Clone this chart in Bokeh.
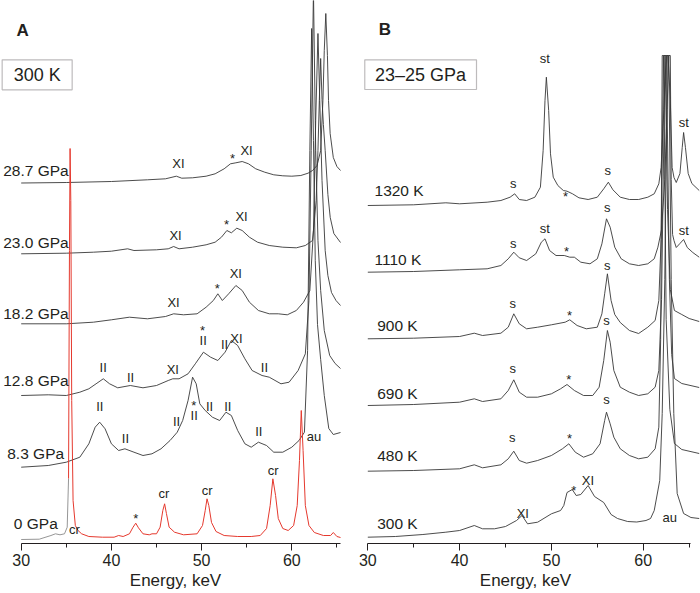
from bokeh.plotting import figure
from bokeh.layouts import row
from bokeh.models import Range1d, FixedTicker, BoxAnnotation, ColumnDataSource
from bokeh.core.properties import value
from bokeh.embed import file_html
from bokeh.resources import INLINE

FONT = "Liberation Sans"
INK = "#231f20"
TRACE = "#383838"
RED = "#e5392e"
GREY0 = "#8a8a8a"

# ---------------- Panel A : 300 K, pressure series (energy keV, intensity a.u. incl. offset)
A_E_287 = [30, 35, 40, 44, 46, 47.2, 47.8, 49, 50.5, 51.5, 52.5, 53.2, 53.8, 54.5, 55.2, 56, 57, 58, 59, 60, 61, 61.8, 62.3, 62.8, 63.2, 63.45, 63.6, 63.77, 63.95, 64.07, 64.25, 64.6, 65.0, 65.4]
A_I_287 = [356.5, 357, 358, 359.7, 360.7, 363.3, 361.3, 361.7, 363.3, 365.7, 370.7, 375.7, 376.7, 378, 375.7, 370.7, 367.3, 364.7, 363.7, 363.3, 364, 366.3, 369, 374, 389, 439, 489, 526, 484, 439, 406, 382, 373, 369]

A_E_230 = [30, 35, 38, 40, 41.8, 42.5, 45, 46.3, 46.9, 47.5, 49, 50.5, 51.5, 52.2, 52.8, 53.3, 53.9, 54.5, 55.3, 56.2, 57.5, 59, 60.5, 61.5, 62.3, 62.7, 62.9, 63.05, 63.2, 63.35, 63.5, 63.7, 64.0, 64.26, 64.66, 65.4]
A_I_230 = [285.7, 286.3, 287.3, 288.3, 290.7, 289, 289.7, 290.7, 293, 290.7, 292.3, 294.7, 297.3, 302.3, 309, 306.7, 311.3, 309, 302.3, 297.3, 294, 292.3, 291.7, 294, 299, 339, 389, 439, 481, 440, 415, 389, 345, 322, 306, 297]

A_E_182 = [30, 35, 38, 40, 42, 44, 46, 46.9, 48, 49.5, 50.5, 51.3, 51.8, 52.3, 53, 53.8, 54.5, 55.3, 56.3, 57.5, 58.5, 59.5, 60.5, 61.3, 62.0, 62.4, 62.65, 62.9, 63.1, 63.35, 63.7, 64.0, 64.4, 64.9, 65.4]
A_I_182 = [215.7, 215.7, 217.3, 219.7, 222.3, 220.7, 223, 225.7, 224.7, 225.7, 232.3, 239, 245.7, 239, 245.7, 254, 249, 237.3, 229, 225.7, 225.7, 224.7, 229, 237.3, 249, 309, 419, 506, 439, 359, 289, 264, 247, 239, 234]

A_E_128 = [30, 33, 35, 36.5, 37.5, 38.3, 39.1, 39.8, 40.7, 42.1, 43.5, 45, 46.3, 46.8, 47.5, 48.5, 49.3, 50.2, 51, 51.8, 52.6, 53.3, 54, 54.8, 55.6, 56.7, 57.5, 58.8, 59.7, 60.7, 61.5, 61.9, 62.15, 62.4, 62.65, 62.9, 63.2, 63.6, 64.2, 64.8, 65.4]
A_I_128 = [144, 144.7, 144, 147.3, 150.7, 155.7, 160.7, 155.7, 151.7, 154, 151.7, 154, 159, 160.7, 160.7, 165.7, 175.7, 187.3, 182.3, 179, 187.3, 199, 194, 180.7, 169, 164, 162.3, 155.7, 157.3, 169, 185.7, 239, 389, 549, 389, 299, 249, 209, 184, 176, 171]

A_E_83 = [30, 33, 35, 36.5, 37.5, 38.2, 38.7, 39.3, 40, 40.8, 41.5, 42.5, 43.5, 44.5, 45.5, 46.5, 47.3, 47.9, 48.5, 49, 49.4, 49.8, 50.4, 51.2, 52, 52.7, 53.3, 54, 54.8, 55.5, 56.3, 57.2, 58, 59, 60, 60.8, 61.4, 61.75, 62.0, 62.2, 62.4, 62.6, 62.85, 63.2, 63.6, 64.1, 64.6, 65.4]
A_I_83 = [72.3, 74, 77.3, 82.3, 95.7, 112.3, 117.3, 110.7, 95.7, 89, 90.7, 87.3, 84, 85.7, 90.7, 99, 107.3, 119, 139, 162.3, 155.7, 135.7, 129, 122.3, 119, 127.3, 124, 109, 95.7, 92.3, 97.3, 94, 87.3, 87.3, 92.3, 99, 107.3, 189, 389, 511, 399, 279, 215, 180, 144, 111, 105, 107]

# 0 GPa: low-energy part (grey) and diffraction part (red)
A_E_0_low = [30, 32, 33.3, 33.8, 34.3, 34.8, 35.1, 35.25]
A_I_0_low = [0, 0.3, 4, 5.7, 4.7, 5.7, 12.3, 61]
A_E_0 = [35.25, 35.35, 35.42, 35.5, 35.6, 35.75, 36.0, 36.3, 36.7, 37.5, 39, 40.3, 40.8, 41.3, 42.0, 42.4, 42.7, 43.0, 43.5, 44.2, 44.5, 45, 45.4, 45.7, 45.9, 46.1, 46.4, 47, 48, 49.5, 50.1, 50.4, 50.6, 50.8, 51.1, 51.6, 52.5, 54, 55.5, 56.5, 57.2, 57.6, 57.9, 58.2, 58.5, 59, 59.6, 60.2, 60.6, 60.85, 61.05, 61.25, 61.5, 61.9, 62.5, 63.5, 64.3, 64.6, 65.0, 65.4]
A_I_0 = [61, 289, 391, 339, 139, 39, 14, 9, 5.7, 3, 2.3, 2.3, 4, 3, 5.7, 12.3, 16.3, 11.7, 5.7, 4.7, 5.7, 5.7, 12.3, 29, 35.7, 26, 12.3, 7.3, 4.7, 5.7, 14, 29, 40.7, 34, 17, 8, 4, 3, 3, 4, 11, 34, 60.7, 44, 21, 11, 9, 14, 34, 79, 129, 89, 34, 14, 7, 4, 4, 7, 3, 2]

A_names = ["28.7 GPa", "23.0 GPa", "18.2 GPa", "12.8 GPa", "8.3 GPa", "0 GPa"]
A_names_x = [28.00, 28.00, 28.00, 28.00, 28.45, 29.18]
A_names_y = [369, 297, 226, 159, 86, 16]

A_marks = ["XI", "*", "XI",
           "XI", "*", "XI",
           "XI", "*", "XI",
           "II", "II", "XI", "*", "II", "II", "XI", "II",
           "II", "II", "II", "*", "II", "II", "II", "II", "au",
           "cr", "*", "cr", "cr", "cr"]
A_marks_x = [47.44, 53.43, 54.98,
             47.11, 52.76, 54.43,
             46.89, 51.73, 53.79,
             39.09, 42.12, 46.81, 50.10, 50.18, 52.54, 53.87, 56.97,
             38.71, 41.56, 47.22, 49.13, 49.18, 50.88, 52.90, 56.34, 62.46,
             35.91, 42.70, 45.81, 50.62, 57.94]
A_marks_y = [376, 381, 389,
             304, 315, 323,
             237, 251, 266,
             172, 162, 170, 209, 199, 195, 201, 172,
             133, 101, 118, 134, 124, 133, 133, 108, 103,
             10, 21, 46, 49, 69]

# ---------------- Panel B : 23-25 GPa, temperature series (au peaks cut at frame top, 484)
B_E_1320 = [30, 35, 38.5, 40, 43, 44.5, 45.5, 46, 46.5, 47.3, 48.2, 48.8, 49.1, 49.3, 49.45, 49.7, 49.9, 50.2, 50.7, 51.3, 51.7, 52.3, 53, 54, 55, 55.7, 56.2, 56.7, 57.5, 58.5, 59.5, 60.5, 61.2, 61.7, 61.95, 62.25, 62.5, 62.7, 62.95, 63.15, 63.35, 63.6, 64.0, 64.25, 64.4, 64.6, 64.9, 65.3, 66.1]
B_I_1320 = [334, 334.7, 336.7, 335.7, 337.3, 339, 342.3, 345.7, 340, 339, 342.3, 352.3, 389, 439, 462.3, 429, 385.7, 362.3, 354, 349, 348.3, 345.7, 341.7, 340, 342.3, 350.7, 357.3, 349.7, 342.3, 340, 340, 342.3, 345.7, 355.7, 372, 430, 484, 484, 440, 372, 362, 357, 366, 392, 407, 392, 366, 356, 349]

B_E_1110 = [30, 35, 40, 43, 44.5, 45.3, 45.9, 46.5, 47.3, 48.3, 48.9, 49.3, 49.8, 50.5, 51.4, 52, 52.5, 53.2, 54.2, 55, 55.5, 56, 56.4, 56.9, 57.6, 58.5, 59.5, 60.5, 61.2, 61.6, 62.0, 62.35, 62.6, 62.78, 62.95, 63.05, 63.2, 63.35, 63.6, 64.0, 64.4, 64.8, 65.4, 66.1]
B_I_1110 = [267.3, 268, 269.7, 270.7, 274, 280.7, 287.3, 281.7, 279, 285.7, 297.3, 300.7, 289, 284, 284, 282.3, 282.3, 277.3, 275.7, 280.7, 295.7, 320.7, 312.3, 292.3, 280.7, 275.7, 274, 275.7, 280.7, 292.3, 310, 360, 430, 484, 484, 360, 305, 299, 292, 296, 300, 292, 287, 282.3]

B_E_900 = [30, 35, 40, 41.6, 42.5, 44.5, 45.3, 45.9, 46.5, 47.3, 48.5, 50, 51.5, 52, 52.8, 53.8, 55, 55.5, 55.8, 56.1, 56.5, 56.9, 57.5, 58.5, 59.5, 60.5, 61.3, 61.7, 61.95, 62.22, 62.38, 62.65, 62.95, 63.4, 64.2, 65.0, 66.1]
B_I_900 = [200.7, 201.3, 203, 206.3, 204, 206.3, 212.3, 225.7, 215.7, 210.7, 212.3, 214.7, 217.3, 219.7, 214, 210.7, 212.3, 225.7, 245.7, 265.7, 239, 225, 217, 209, 206, 212.3, 219, 239, 300, 484, 484, 330, 250, 229, 225, 221, 218]

B_E_690 = [30, 35, 40, 41.6, 42.5, 44.5, 45.3, 45.9, 46.5, 47.3, 48.5, 50, 51, 51.7, 52.5, 53.5, 54.5, 55.2, 55.7, 56.1, 56.4, 56.8, 57.5, 58.5, 59.5, 60.5, 61.3, 61.7, 62.0, 62.37, 62.53, 62.85, 63.1, 63.4, 64.2, 66.1]
B_I_690 = [134, 135, 137.3, 140.7, 138, 140.7, 149, 159.7, 147.3, 142.3, 142.3, 145.7, 150.7, 155, 149, 144, 144, 152.3, 179, 209, 197.3, 169, 152.3, 147.3, 144, 145.7, 152.3, 169, 240, 484, 484, 260, 185, 161, 156, 152]

B_E_480 = [30, 35, 40, 41.6, 42.5, 44.5, 45.3, 45.9, 46.5, 47.3, 48.5, 50, 51.2, 51.9, 52.6, 53.5, 54.5, 55.3, 55.8, 56.0, 56.4, 56.8, 57.5, 58.5, 59.5, 60.5, 61.3, 61.7, 61.9, 62.07, 62.23, 62.5, 62.9, 63.4, 64.2, 66.1]
B_I_480 = [68.3, 69, 70.7, 74.7, 71.7, 74.7, 80.7, 88.3, 79, 76.3, 79, 84, 90.7, 95.7, 87.3, 82.3, 85.7, 95.7, 119, 127.3, 115.7, 102.3, 90.7, 84, 80.7, 82.3, 90.7, 112.3, 200, 484, 484, 220, 130, 96, 90, 86]

B_E_300 = [30, 33, 36, 38.5, 40, 41.6, 42.5, 43.8, 45, 46.2, 46.8, 47.4, 48.5, 50, 51.0, 51.35, 51.7, 52.27, 52.7, 53.2, 54.0, 54.7, 55.7, 56.5, 57.2, 58.3, 59.3, 60.3, 60.8, 61.2, 61.8, 62.07, 62.35, 62.62, 62.78, 63.05, 63.33, 63.7, 64.4, 65.2, 66.1]
B_I_300 = [2.3, 3, 5, 7.3, 9, 14, 10.7, 10.7, 13, 19, 24, 15.7, 17.3, 25.7, 29, 34, 47, 50, 44, 45, 54, 43, 37, 25, 21, 18, 17.5, 19, 21, 29, 59, 126, 260, 484, 484, 260, 126, 46, 26, 22, 21]

B_names = ["1320 K", "1110 K", "900 K", "690 K", "480 K", "300 K"]
B_names_x = [30.73, 30.73, 31.02, 31.02, 31.02, 31.02]
B_names_y = [349, 280, 214, 146, 84, 16]

B_marks = ["s", "st", "*", "s", "st",
           "s", "st", "*", "s", "st",
           "s", "*", "s",
           "s", "*", "s",
           "s", "*", "s",
           "XI", "*", "XI", "au"]
B_marks_x = [45.84, 49.28, 51.54, 56.14, 64.42,
             45.84, 49.28, 51.65, 56.08, 64.42,
             45.80, 51.97, 56.08,
             45.80, 51.90, 56.00,
             45.73, 51.97, 56.00,
             46.88, 52.44, 53.97, 62.90]
B_marks_y = [356, 481, 343, 369, 417,
             296, 311, 288, 332, 309,
             236, 224, 274,
             171, 160, 219,
             102, 101, 140,
             26, 49, 59, 22]

MAJOR = [30, 40, 50, 60]
MINOR = [35, 45, 55, 65]


def make_panel(width, xr, bounds):
    p = figure(width=width, height=593, x_range=Range1d(*xr), y_range=Range1d(-4, 539),
               output_backend="svg", toolbar_location=None, y_axis_location=None,
               min_border=0, min_border_bottom=50)
    p.grid.visible = False
    p.outline_line_color = None
    p.background_fill_color = "white"
    p.border_fill_color = "white"
    ax = p.xaxis[0]
    ax.ticker = FixedTicker(ticks=MAJOR, minor_ticks=MINOR)
    ax.bounds = bounds
    ax.axis_line_color = INK
    ax.axis_line_width = 1.2
    ax.major_tick_line_color = INK
    ax.minor_tick_line_color = INK
    ax.major_tick_out = 7
    ax.major_tick_in = 0
    ax.minor_tick_out = 4
    ax.minor_tick_in = 0
    ax.major_label_text_font = FONT
    ax.major_label_text_font_size = "16px"
    ax.major_label_text_color = INK
    ax.major_label_standoff = 3
    ax.axis_label = "Energy, keV"
    ax.axis_label_text_font = FONT
    ax.axis_label_text_font_style = "normal"
    ax.axis_label_text_font_size = "17px"
    ax.axis_label_text_color = INK
    ax.axis_label_standoff = 2
    return p


def add_text(p, texts, xs, ys, size, align="center", style="normal"):
    src = ColumnDataSource(dict(x=xs, y=ys, t=texts))
    p.text(x="x", y="y", text="t", source=src, text_font=value(FONT), text_font_size=size,
           text_align=align, text_baseline="middle", text_color=INK, text_font_style=style)


# ----- Panel A
pa = make_panel(350, (27.705, 66.507), (30, 65.4))
for E, I in [(A_E_287, A_I_287), (A_E_230, A_I_230), (A_E_182, A_I_182),
             (A_E_128, A_I_128), (A_E_83, A_I_83)]:
    pa.line(E, I, line_color=TRACE, line_width=0.9)
pa.line(A_E_0_low, A_I_0_low, line_color=GREY0, line_width=0.9)
pa.line(A_E_0, A_I_0, line_color=RED, line_width=1.0)
add_text(pa, A_names, A_names_x, A_names_y, "15.5px", align="left")
add_text(pa, A_marks, A_marks_x, A_marks_y, "13px")
add_text(pa, ["A"], [29.48], [509], "17px", align="left", style="bold")
pa.add_layout(BoxAnnotation(left=27.89, right=35.65, bottom=449.7, top=479.7,
                            fill_alpha=0, line_color=INK, line_width=1.2))
add_text(pa, ["300 K"], [31.77], [465], "18px")

# ----- Panel B
pb = make_panel(350, (28.115, 66.24), (30, 65.2))
for E, I in [(B_E_1320, B_I_1320), (B_E_1110, B_I_1110), (B_E_900, B_I_900),
             (B_E_690, B_I_690), (B_E_480, B_I_480), (B_E_300, B_I_300)]:
    pb.line(E, I, line_color=TRACE, line_width=0.9)
add_text(pb, B_names, B_names_x, B_names_y, "15.5px", align="left")
add_text(pb, B_marks, B_marks_x, B_marks_y, "13px")
add_text(pb, ["B"], [31.2], [509.7], "17px", align="left", style="bold")
pb.add_layout(BoxAnnotation(left=29.67, right=41.84, bottom=450, top=479.7,
                            fill_alpha=0, line_color=INK, line_width=1.2))
add_text(pb, ["23\u201325 GPa"], [35.74], [465], "18px")

layout = row(pa, pb)
open("out.html", "w").write(file_html(layout, INLINE))
